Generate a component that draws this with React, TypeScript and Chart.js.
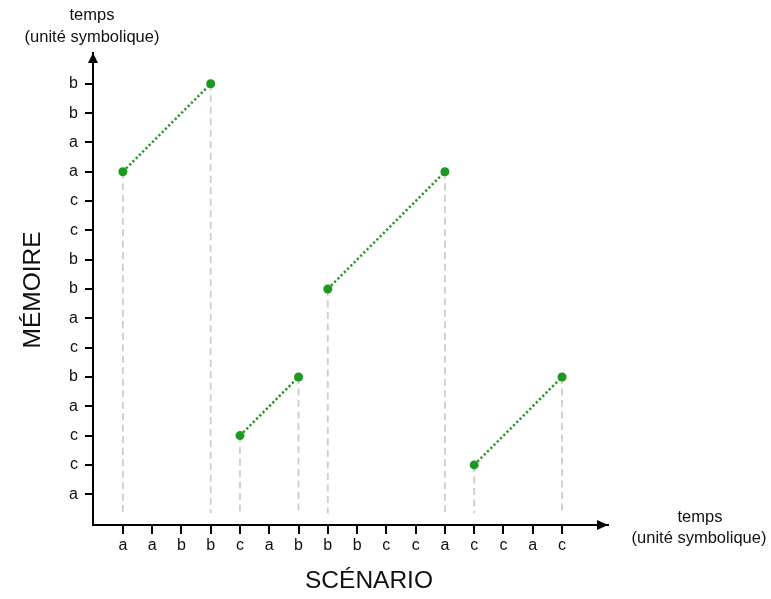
import React, { useEffect, useRef } from "react";
import { Chart, registerables } from "chart.js";

Chart.register(...registerables);

// Category labels along the scenario (x) axis, left to right
const xCategories = ["a", "a", "b", "b", "c", "a", "b", "b", "b", "c", "c", "a", "c", "c", "a", "c"];
// Category labels along the memory (y) axis, bottom to top
const yCategories = ["a", "c", "c", "a", "b", "c", "a", "b", "b", "c", "c", "a", "a", "b", "b"];

// Segments (indices into the categories above)
const segStartX = [0, 4, 7, 12];
const segStartY = [11, 2, 7, 1];
const segEndX = [3, 6, 11, 15];
const segEndY = [14, 4, 11, 4];

// Where the grey dashed drop lines stop (y value, just above the axis)
const dropBase = -0.65;

const axisTitleX = "SCÉNARIO";
const axisTitleY = "MÉMOIRE";
const timeLine1 = "temps";
const timeLine2 = "(unité symbolique)";

const FONT = "'Liberation Sans', Arial, Helvetica, sans-serif";
const GREEN = "#1f9822";
const GREY = "#cdcdcd";

export default function App() {
  const ref = useRef<HTMLCanvasElement | null>(null);

  useEffect(() => {
    const canvas = ref.current;
    if (!canvas) return;

    const datasets: any[] = [];
    segStartX.forEach((sx, i) => {
      datasets.push({
        data: [
          { x: sx, y: segStartY[i] },
          { x: segEndX[i], y: segEndY[i] },
        ],
        borderColor: GREEN,
        backgroundColor: GREEN,
        borderWidth: 2.5,
        borderDash: [2.2, 2.4],
        pointRadius: 4.5,
        pointBorderWidth: 0,
        pointBackgroundColor: GREEN,
        showLine: true,
        order: 1,
      });
    });
    const dropPts: { x: number; y: number }[] = [];
    segStartX.forEach((sx, i) => {
      dropPts.push({ x: sx, y: segStartY[i] });
      dropPts.push({ x: segEndX[i], y: segEndY[i] });
    });
    dropPts.forEach((p) => {
      datasets.push({
        data: [
          { x: p.x, y: p.y },
          { x: p.x, y: dropBase },
        ],
        borderColor: GREY,
        borderWidth: 1.8,
        borderDash: [7, 4.5],
        pointRadius: 0,
        showLine: true,
        order: 2,
      });
    });

    const decor = {
      id: "decor",
      afterDraw(chart: any) {
        const { ctx, chartArea } = chart;
        const { left, right, top, bottom } = chartArea;
        ctx.save();
        ctx.fillStyle = "#000";
        // y arrow
        ctx.beginPath();
        ctx.moveTo(left, top);
        ctx.lineTo(left - 5, top + 10);
        ctx.lineTo(left + 5, top + 10);
        ctx.closePath();
        ctx.fill();
        // x arrow
        ctx.beginPath();
        ctx.moveTo(right, bottom);
        ctx.lineTo(right - 11, bottom - 5);
        ctx.lineTo(right - 11, bottom + 5);
        ctx.closePath();
        ctx.fill();

        ctx.fillStyle = "#111";
        ctx.textAlign = "center";
        ctx.textBaseline = "middle";
        ctx.font = `16.5px ${FONT}`;
        ctx.fillText(timeLine1, 92, 15);
        ctx.fillText(timeLine2, 92, 37);
        ctx.fillText(timeLine1, 700, 517);
        ctx.fillText(timeLine2, 699, 538);

        ctx.font = `24.5px ${FONT}`;
        ctx.fillText(axisTitleX, 369, 581);
        ctx.save();
        ctx.translate(33, 290);
        ctx.rotate(-Math.PI / 2);
        ctx.fillText(axisTitleY, 0, 0);
        ctx.restore();
        ctx.restore();
      },
    };

    const chart = new Chart(canvas, {
      type: "scatter",
      data: { datasets },
      options: {
        animation: false,
        responsive: false,
        events: [],
        layout: { padding: { top: 53, right: 163, left: 0, bottom: 0 } },
        plugins: { legend: { display: false }, tooltip: { enabled: false } },
        scales: {
          x: {
            type: "linear",
            min: -1.02,
            max: 16.57,
            afterBuildTicks: (scale: any) => {
              scale.ticks = xCategories.map((_, i) => ({ value: i }));
            },
            afterFit: (scale: any) => {
              scale.height = 74;
            },
            ticks: {
              autoSkip: false,
              maxRotation: 0,
              padding: 2,
              color: "#111",
              font: { family: FONT, size: 16 },
              callback: (v: any) => xCategories[v as number] ?? "",
            },
            grid: {
              display: true,
              drawOnChartArea: false,
              drawTicks: true,
              tickLength: 9,
              color: "#000",
              lineWidth: 2,
            },
            border: { display: true, color: "#000", width: 2 },
          },
          y: {
            type: "linear",
            min: -1.05,
            max: 15.05,
            afterBuildTicks: (scale: any) => {
              scale.ticks = yCategories.map((_, i) => ({ value: i }));
            },
            afterFit: (scale: any) => {
              scale.width = 93;
            },
            ticks: {
              autoSkip: false,
              padding: 7,
              color: "#111",
              font: { family: FONT, size: 16 },
              callback: (v: any) => yCategories[v as number] ?? "",
            },
            grid: {
              display: true,
              drawOnChartArea: false,
              drawTicks: true,
              tickLength: 8,
              color: "#000",
              lineWidth: 2,
            },
            border: { display: true, color: "#000", width: 2 },
          },
        },
      },
      plugins: [decor],
    } as any);

    return () => chart.destroy();
  }, []);

  return (
    <div style={{ position: "fixed", left: 0, top: 0, width: 771, height: 599, background: "#fff" }}>
      <canvas ref={ref} width={771} height={599} style={{ display: "block" }} />
    </div>
  );
}
